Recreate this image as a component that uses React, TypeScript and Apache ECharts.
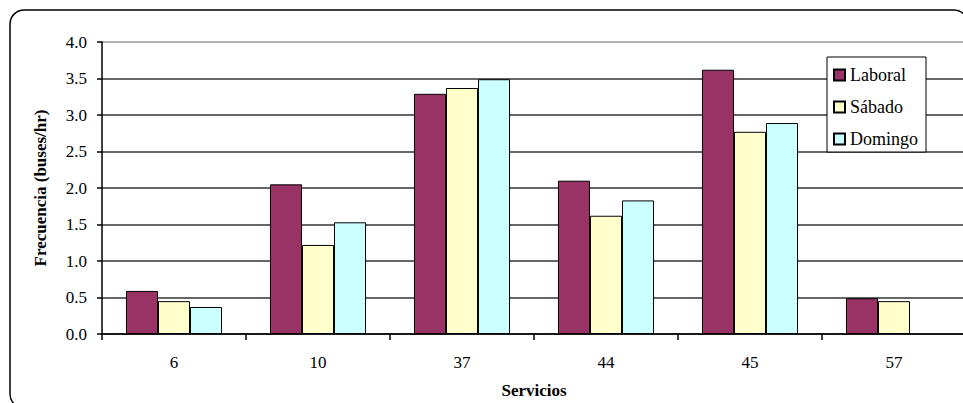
import React, { useEffect, useRef } from "react";
import * as echarts from "echarts";

const categories = ["6", "10", "37", "44", "45", "57"];
const laboral = [0.59, 2.05, 3.29, 2.1, 3.62, 0.49];
const sabado = [0.45, 1.22, 3.37, 1.62, 2.77, 0.45];
const domingo: (number | null)[] = [0.37, 1.53, 3.49, 1.83, 2.89, null];
const seriesNames = ["Laboral", "Sábado", "Domingo"];
const seriesColors = ["#993366", "#FFFFCC", "#CCFFFF"];

const FONT = "Liberation Serif";

export default function App() {
  const ref = useRef<HTMLDivElement>(null);
  useEffect(() => {
    if (!ref.current) return;
    const chart = echarts.init(ref.current, undefined, { renderer: "svg" });
    const data = [laboral, sabado, domingo];
    chart.setOption({
      animation: false,
      backgroundColor: "#fff",
      textStyle: { fontFamily: FONT },
      graphic: [
        {
          type: "rect",
          shape: { x: 10, y: 10, width: 958, height: 398, r: 14 },
          style: { fill: "none", stroke: "#000", lineWidth: 1.5 },
          z: 100,
        },
      ],
      grid: {
        left: 102,
        top: 42,
        width: 864,
        height: 292,
        containLabel: false,
        outerBoundsMode: "none",
      },
      legend: {
        orient: "vertical",
        left: 827,
        top: 57,
        backgroundColor: "#fff",
        borderColor: "#000",
        borderWidth: 1,
        padding: [9, 8, 4, 6],
        itemWidth: 11,
        itemHeight: 11,
        itemGap: 14,
        icon: "rect",
        textStyle: { fontFamily: FONT, fontSize: 18, color: "#000", lineHeight: 18 },
        data: seriesNames,
        z: 10,
      },
      xAxis: {
        type: "category",
        data: categories,
        name: "Servicios",
        nameLocation: "middle",
        nameGap: 48,
        nameTextStyle: { fontFamily: FONT, fontSize: 17, fontWeight: "bold", color: "#000" },
        axisLine: { lineStyle: { color: "#000", width: 1.5 } },
        axisTick: { show: true, length: 6, lineStyle: { color: "#000", width: 1.5 } },
        axisLabel: { fontFamily: FONT, fontSize: 17, color: "#000", margin: 20 },
      },
      yAxis: {
        type: "value",
        min: 0,
        max: 4,
        interval: 0.5,
        name: "Frecuencia (buses/hr)",
        nameLocation: "middle",
        nameGap: 53,
        nameTextStyle: { fontFamily: FONT, fontSize: 17, fontWeight: "bold", color: "#000" },
        axisLine: { show: true, lineStyle: { color: "#000", width: 1.5 } },
        axisTick: { show: true, length: 5, lineStyle: { color: "#000", width: 1.5 } },
        axisLabel: {
          fontFamily: FONT,
          fontSize: 17,
          color: "#000",
          margin: 15,
          formatter: (v: number) => v.toFixed(1),
        },
        splitLine: {
          show: true,
          lineStyle: {
            color: ["#333", "#333", "#333", "#333", "#333", "#333", "#333", "#333", "#999"],
            width: 1.5,
          },
        },
      },
      series: seriesNames.map((name, i) => ({
        name,
        type: "bar",
        data: data[i],
        barGap: "0%",
        barCategoryGap: "33.3%",
        itemStyle: { color: seriesColors[i], borderColor: "#000", borderWidth: 1 },
      })),
    });
    return () => chart.dispose();
  }, []);
  return (
    <div
      ref={ref}
      style={{ position: "fixed", left: 0, top: 0, width: 963, height: 403 }}
    />
  );
}
